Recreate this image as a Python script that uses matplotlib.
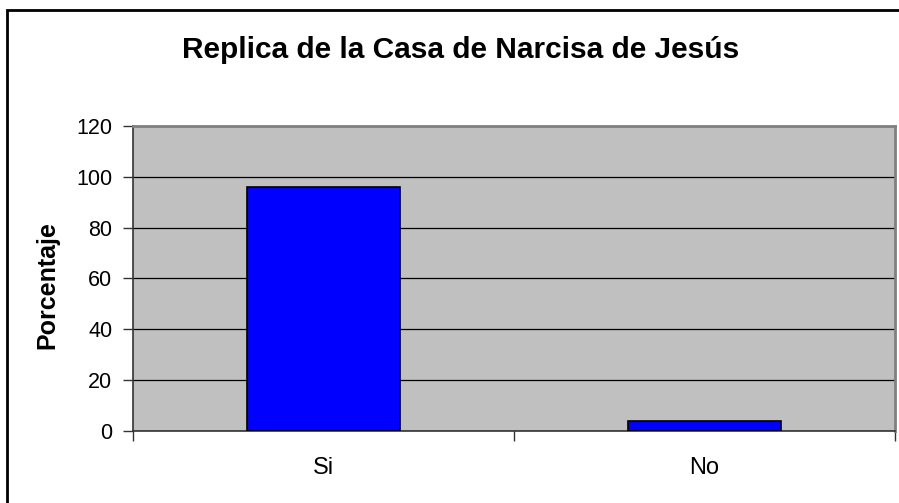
import matplotlib
matplotlib.use("Agg")
import matplotlib.pyplot as plt
from matplotlib.patches import Rectangle

categories = ["Si", "No"]
values = [96, 4]
yticks = [0, 20, 40, 60, 80, 100, 120]
title = "Replica de la Casa de Narcisa de Jesús"
ylabel = "Porcentaje"

plt.rcParams['font.family'] = ['Liberation Sans', 'DejaVu Sans']

W, H = 899, 503
fig = plt.figure(figsize=(W / 100, H / 100), dpi=100)
fig.patch.set_facecolor("white")

# outer chart border
fig.patches.append(Rectangle((7 / W, -0.1), 1.2, (H - 10) / H + 0.1,
                             transform=fig.transFigure, fill=False,
                             edgecolor="black", linewidth=2))

ax = fig.add_axes([133 / W, (H - 430.7) / H, (895 - 133) / W, (430.7 - 126) / H])
ax.set_facecolor("#C0C0C0")

x = list(range(len(categories)))
ax.bar(x, values, width=0.40, color="#0000FF", edgecolor="black", linewidth=1.2, zorder=3)

ax.set_xlim(-0.5, len(categories) - 0.5)
ax.set_ylim(0, 120)
ax.set_yticks(yticks)
ax.set_yticklabels([str(t) for t in yticks], fontsize=15.5)
ax.yaxis.grid(True, color="black", linewidth=0.9, zorder=1)
ax.set_axisbelow(True)

ax.set_xticks(x)
ax.set_xticklabels(categories, fontsize=17)
ax.set_xticks([i - 0.5 for i in range(len(categories) + 1)], minor=True)
ax.tick_params(axis="x", which="major", length=0, pad=19)
ax.tick_params(axis="x", which="minor", length=7, width=1, color="#333333")
ax.tick_params(axis="y", length=7, width=1, color="#333333", pad=8)

for s in ["top", "right"]:
    ax.spines[s].set_color("#808080")
    ax.spines[s].set_linewidth(2)
for s in ["left", "bottom"]:
    ax.spines[s].set_color("#333333")
    ax.spines[s].set_linewidth(1.2)

fig.text(47 / W, 1 - 285 / H, ylabel, fontsize=18, fontweight="bold",
         rotation=90, ha="center", va="center")
fig.text(461 / W, 1 - 50 / H, title, fontsize=21.5, fontweight="bold",
         ha="center", va="center")

fig.savefig("out.png", dpi=100)
